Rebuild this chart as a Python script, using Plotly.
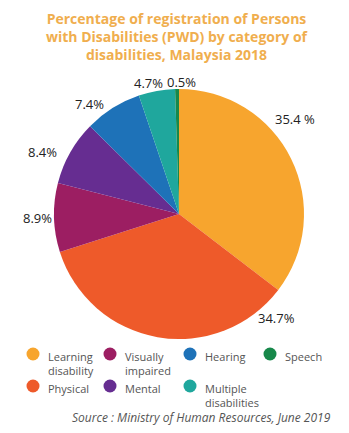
import math
import plotly.graph_objects as go

# Registration share by disability category (%), clockwise from 12 o'clock
categories = ["Learning disability", "Physical", "Visually impaired", "Mental",
              "Hearing", "Multiple disabilities", "Speech"]
shares = [35.4, 34.7, 8.9, 8.4, 7.4, 4.7, 0.5]
value_labels = ["35.4 %", "34.7%", "8.9%", "8.4%", "7.4%", "4.7%", "0.5%"]
colors = ["#F7A52E", "#EE5A2A", "#9C1E62", "#662D91", "#1E72B8", "#1FA79D", "#17884A"]

# Legend layout: names split on two lines, arranged in 4 columns x 2 rows
legend_names = ["Learning<br>disability", "Physical", "Visually<br>impaired", "Mental",
                "Hearing", "Multiple<br>disabilities", "Speech"]

W, H = 349, 433
cx, cy, R = 179, 214, 125


def px(x):
    return x / W


def py(y):
    return 1 - y / H


fig = go.Figure(go.Pie(
    labels=categories, values=shares, sort=False, direction="clockwise",
    rotation=0, marker=dict(colors=colors, line=dict(width=0)),
    textinfo="none", hoverinfo="label+percent", showlegend=False,
    domain=dict(x=[px(cx - R), px(cx + R)], y=[py(cy + R), py(cy - R)]),
))

# Percentage labels around the pie, placed from each slice's mid angle
angle_shift = [-13, -53, 0, -5, -7, -3, 2]
label_radius = [150, 143, 142, 150, 142, 135, 132]
annotations = []
cum = 0.0
total = sum(shares)
for i, v in enumerate(shares):
    mid = (cum + v / 2) / total * 360
    cum += v
    th = math.radians(mid + angle_shift[i])
    x = cx + label_radius[i] * math.sin(th)
    y = cy - label_radius[i] * math.cos(th)
    annotations.append(dict(
        x=px(x), y=py(y), xref="paper", yref="paper", text=value_labels[i],
        showarrow=False, xanchor="center", yanchor="middle",
        font=dict(family="Open Sans", size=13, color="#222222")))

# Custom legend with round markers
col_x = [33, 110, 190, 270]
row_y = [354, 386]
order = [0, 2, 4, 6, 1, 3, 5]  # row-major placement of category indices
shapes = []
for slot, idx in enumerate(order):
    r, c = divmod(slot, 4)
    x0, y0 = col_x[c], row_y[r]
    shapes.append(dict(type="circle", xref="paper", yref="paper",
                       x0=px(x0 - 6.5), x1=px(x0 + 6.5),
                       y0=py(y0 + 6.5), y1=py(y0 - 6.5),
                       fillcolor=colors[idx], line=dict(width=0)))
    annotations.append(dict(
        x=px(x0 + 13), y=py(y0 - 7), xref="paper", yref="paper",
        text=legend_names[idx], showarrow=False, xanchor="left", yanchor="top",
        align="left", font=dict(family="Open Sans", size=11, color="#555555")))

annotations.append(dict(
    x=px(333), y=py(417), xref="paper", yref="paper",
    text="<i>Source : Ministry of Human Resources, June 2019</i>",
    showarrow=False, xanchor="right", yanchor="middle",
    font=dict(family="Open Sans", size=12, color="#555555")))

annotations.append(dict(
    x=px(177), y=py(7), xref="paper", yref="paper",
    text="<b>Percentage of registration of Persons<br>with Disabilities (PWD) by category of"
         "<br>disabilities, Malaysia 2018</b>",
    showarrow=False, xanchor="center", yanchor="top", align="center",
    font=dict(family="Open Sans", size=14, color="#F0AE4E")))

fig.update_layout(
    width=W, height=H, margin=dict(l=0, r=0, t=0, b=0),
    paper_bgcolor="white", plot_bgcolor="white",
    annotations=annotations, shapes=shapes,
)

fig.write_html("out.html")
